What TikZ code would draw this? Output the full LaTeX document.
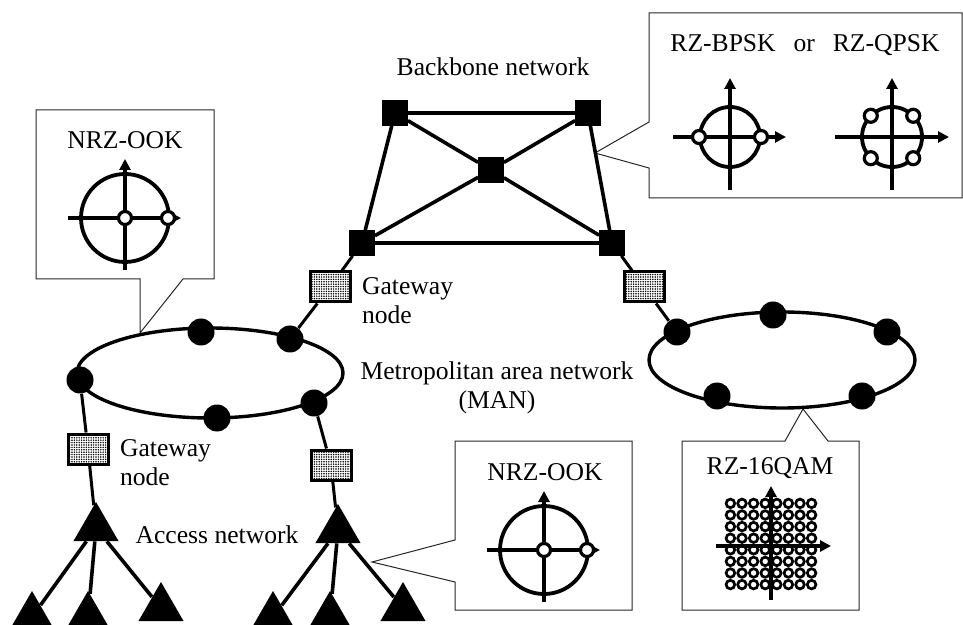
\documentclass[tikz,border=0pt]{standalone}
\usepackage{fontspec}
\setmainfont{Liberation Serif}
\usetikzlibrary{arrows.meta,patterns.meta,shapes.geometric}
\begin{document}
\begin{tikzpicture}[x=0.5pt,y=-0.5pt,
	every node/.style={font=\fontsize{12.8}{14.5}\selectfont},
	link/.style={line width=1.8pt},
	bubble/.style={line width=0.5pt, draw=black!85},
	ring/.style={draw, ellipse, line width=1.7pt, inner sep=0pt},
	router/.style={draw, fill=black, minimum size=12.5pt, inner sep=0pt},
	relay/.style={circle, fill=black, minimum size=13.5pt, inner sep=0pt},
	gateway/.style={draw, line width=1.5pt, minimum width=20pt, minimum height=15pt, inner sep=0pt, fill=white,
		postaction={pattern={Dots[distance=1.2pt, radius=0.42pt]}, pattern color=black}},
	olt/.style={regular polygon, regular polygon sides=3, fill=black, minimum size=26pt, inner sep=0pt},
	iqaxis/.style={line width=1.7pt, -{Triangle[length=5.5pt, width=5.5pt]}},
	constring/.style={line width=1.9pt},
	constpt/.style={circle, draw, fill=white, line width=1.6pt, minimum size=6.5pt, inner sep=0pt},
	qampt/.style={circle, draw, line width=1.35pt, minimum size=4.3pt, inner sep=0pt}]
	\useasboundingbox (0,0) rectangle (963,625);

	\coordinate (tipL) at (140,333);
	\coordinate (tipB) at (595,153);
	\coordinate (tipA) at (372,562);
	\coordinate (tipQ) at (803,409);
	\draw[bubble] (36,110) -- (214,110) -- (214,279) -- (183,279) -- (tipL) -- (140,279) -- (36,279) -- cycle;
	\draw[bubble] (649,13) -- (962,13) -- (962,198) -- (649,198) -- (649,168) -- (tipB) -- (649,122) -- cycle;
	\draw[bubble] (455,441) -- (632,441) -- (632,610) -- (455,610) -- (455,582) -- (tipA) -- (455,540) -- cycle;
	\draw[bubble] (682,441) -- (785,441) -- (tipQ) -- (828,441) -- (859,441) -- (859,610) -- (682,610) -- cycle;

	\node (bbtext) at (493,67) {Backbone network};
	\node[router] (bbTL) at (395,113) {};
	\node[router] (bbTR) at (588,113) {};
	\node[router] (bbC) at (491,170) {};
	\node[router] (bbBL) at (362,243) {};
	\node[router] (bbBR) at (612,243) {};
	\draw[link] (bbTL) -- (bbTR) -- (bbBR) -- (bbBL) -- (bbTL);
	\draw[link] (bbTL) -- (bbC) -- (bbBR);
	\draw[link] (bbTR) -- (bbC) -- (bbBL);

	\node[ring, minimum width=133pt, minimum height=45pt] (manL) at (210,373) {};
	\node[ring, minimum width=133pt, minimum height=48pt] (manR) at (782,360) {};
	\node[relay] (mL1) at (80,380) {};
	\node[relay] (mL2) at (201,332) {};
	\node[relay] (mL3) at (290,339) {};
	\node[relay] (mL4) at (314,403) {};
	\node[relay] (mL5) at (217,418) {};
	\node[relay] (mR1) at (677,332) {};
	\node[relay] (mR2) at (773,315) {};
	\node[relay] (mR3) at (887,332) {};
	\node[relay] (mR4) at (862,396) {};
	\node[relay] (mR5) at (717,396) {};
	\node (mantext) at (497,388) [align=center] {Metropolitan area network\\(MAN)};

	\node[gateway] (gwM1) at (330,287) {};
	\node[gateway] (gwM2) at (644,287) {};
	\node[gateway] (gwA1) at (88,449) {};
	\node[gateway] (gwA2) at (331,465) {};
	\node[anchor=west, align=left] (gwtext1) at (355,301) {Gateway\\node};
	\node[anchor=west, align=left] (gwtext2) at (113,463) {Gateway\\node};
	\draw[link, line width=1.5pt] (bbBL) -- (gwM1) -- (mL3);
	\draw[link, line width=1.5pt] (bbBR) -- (gwM2) -- (mR1);

	\node[olt] (olt1) at (96,528) {};
	\node[olt] (olt2) at (338,530) {};
	\node[olt] (onu11) at (32,617) {};
	\node[olt] (onu12) at (88,617) {};
	\node[olt] (onu13) at (161,608) {};
	\node[olt] (onu21) at (273,617) {};
	\node[olt] (onu22) at (330,617) {};
	\node[olt] (onu23) at (403,608) {};
	\draw[link, line width=1.5pt] (mL1) -- (gwA1) -- (olt1);
	\draw[link, line width=1.5pt] (mL4) -- (gwA2) -- (olt2);
	\foreach \k in {1,2,3} {
		\draw[link] (olt1) -- (onu1\k);
		\draw[link] (olt2) -- (onu2\k);
	}
	\node (acctext) at (217,535) {Access network};

	\node (ooktext1) at (125,140) {NRZ-OOK};
	\node (ooktext2) at (545,472) {NRZ-OOK};
	\foreach \cx/\cy in {125/218, 544/550} {
		\draw[constring] (\cx,\cy) circle[radius=22pt];
		\draw[iqaxis] (\cx-57,\cy) -- (\cx+56,\cy);
		\draw[iqaxis] (\cx,\cy+52) -- (\cx,\cy-59);
		\node[constpt] at (\cx,\cy) {};
		\node[constpt] at (\cx+43,\cy) {};
	}

	\node (psktext) at (805,45) {RZ-BPSK\hspace{0.7em}or\hspace{0.7em}RZ-QPSK};
	\draw[constring] (730,137) circle[radius=15pt];
	\draw[iqaxis] (673,137) -- (786,137);
	\draw[iqaxis] (730,190) -- (730,78);
	\node[constpt] at (699,137) {};
	\node[constpt] at (761,137) {};
	\draw[constring] (892,137) circle[radius=15pt];
	\draw[iqaxis] (835,137) -- (949,137);
	\draw[iqaxis] (892,190) -- (892,78);
	\foreach \a in {45,135,225,315}
		\node[constpt] at ({892+30*cos(\a)},{137+30*sin(\a)}) {};

	\node (qamtext) at (770,468) {RZ-16QAM};
	\foreach \i in {-4,...,3}
		\foreach \j in {-4,...,3}
			\node[qampt] at ({771+(\i+0.5)*11.6},{544+(\j+0.5)*11.6}) {};
	\draw[iqaxis] (716,546) -- (831,546);
	\draw[iqaxis] (771,600) -- (771,486);
\end{tikzpicture}
\end{document}
